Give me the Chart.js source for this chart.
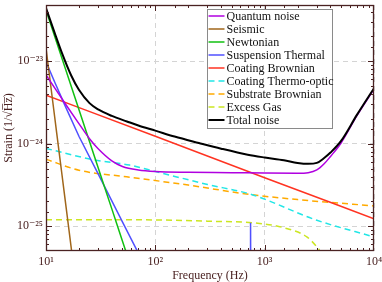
<!DOCTYPE html>
<html lang="en">
<head>
    <meta charset="UTF-8">
    <title>Noise Budget</title>
    <script src="https://cdn.jsdelivr.net/npm/chart.js"></script>
    <style>
        html, body { margin: 0; padding: 0; background: #fff; }
    </style>
</head>
<body>
<canvas id="noiseChart" width="382" height="282"></canvas>
<script>
    // Curves: frequency (Hz) and strain (1/sqrt(Hz))
    const quantumFreq = [10, 12, 15, 20, 25, 30, 40, 50, 70, 100, 200, 500, 1000, 2000, 2500, 3000, 3500, 4000, 5000, 7000, 10000];
    const quantumStrain = [6.8e-24, 4.75e-24, 3.05e-24, 1.75e-24, 1.15e-24, 8.7e-25, 6.2e-25, 5.3e-25, 4.8e-25, 4.6e-25, 4.5e-25, 4.45e-25, 4.4e-25, 4.38e-25, 4.45e-25, 4.8e-25, 5.7e-25, 7.0e-25, 1.02e-24, 2.2e-24, 4.6e-24];

    const seismicFreq = [10, 12, 14, 16, 18];
    const seismicStrain = [1.44e-23, 2.12e-24, 4.2e-25, 1.04e-25, 3e-26];

    const newtonianFreq = [10, 20, 30, 40, 50, 60];
    const newtonianStrain = [4.15e-23, 2.6e-24, 5.1e-25, 1.62e-25, 6.6e-26, 3.2e-26];

    const suspensionFreq = [10, 12, 15, 20, 30, 50, 70, 90, 735, 743, 751, 1000];
    const suspensionStrain = [9.8e-24, 5.6e-24, 2.85e-24, 1.23e-24, 4.3e-25, 1.13e-25, 4.7e-26, 1e-26, 1e-27, 1.1e-25, 1e-27, 1e-27];

    const coatingBrownianFreq = [10, 100, 1000, 10000];
    const coatingBrownianStrain = [3.87e-24, 1.23e-24, 3.87e-25, 1.23e-25];

    const thermoOpticFreq = [10, 27, 58, 100, 300, 735, 3000, 10000];
    const thermoOpticStrain = [8.75e-25, 6.4e-25, 5.5e-25, 4.6e-25, 3.2e-25, 2.45e-25, 1.18e-25, 7.4e-26];

    const substrateFreq = [10, 20, 58, 200, 735, 2000, 10000];
    const substrateStrain = [6.48e-25, 4.77e-25, 3.93e-25, 3.15e-25, 2.42e-25, 2.1e-25, 1.76e-25];

    const excessGasFreq = [10, 100, 300, 900, 1470, 2430, 2990, 3214, 3500];
    const excessGasStrain = [1.2e-25, 1.19e-25, 1.15e-25, 1.08e-25, 9.64e-26, 7.41e-26, 5.62e-26, 4.9e-26, 3e-26];

    const totalFreq = [10, 12, 14, 17, 20, 25, 30, 40, 55, 70, 100, 150, 250, 400, 700, 1000, 1500, 2000, 2500, 3000, 3500, 4000, 5000, 7000, 10000];
    const totalStrain = [4.4e-23, 2.2e-23, 1.25e-23, 6.7e-24, 4.5e-24, 3.1e-24, 2.6e-24, 2.17e-24, 1.86e-24, 1.66e-24, 1.44e-24, 1.22e-24, 1.02e-24, 8.7e-25, 7.35e-25, 6.8e-25, 6.3e-25, 5.85e-25, 5.7e-25, 5.85e-25, 6.7e-25, 7.8e-25, 1.08e-24, 2.25e-24, 4.7e-24];

    const seriesNames = ['Quantum noise', 'Seismic', 'Newtonian', 'Suspension Thermal', 'Coating Brownian',
        'Coating Thermo-optic', 'Substrate Brownian', 'Excess Gas', 'Total noise'];

    // Axis ticks that carry a label
    const xTickValues = [10, 100, 1000, 10000];
    const xTickLabels = ['10¹', '10²', '10³', '10⁴'];
    const yTickValues = [1e-25, 1e-24, 1e-23];
    const yTickLabels = ['10⁻²⁵', '10⁻²⁴', '10⁻²³'];

    const axisColor = '#4a2222';
    const serif = '"Liberation Serif", "DejaVu Serif", serif';

    function toPoints(freq, strain) {
        return freq.map((f, i) => ({ x: f, y: strain[i] }));
    }

    function isDecade(v) {
        const l = Math.log10(v);
        return Math.abs(l - Math.round(l)) < 1e-6;
    }

    function findLabel(v, values, labels) {
        for (let i = 0; i < values.length; i++) {
            if (Math.abs(Math.log10(v) - Math.log10(values[i])) < 1e-6) return labels[i];
        }
        return '';
    }

    function curve(idx, freq, strain, color, opts) {
        return Object.assign({
            label: seriesNames[idx],
            data: toPoints(freq, strain),
            borderColor: color,
            backgroundColor: color,
            borderWidth: 1.5,
            pointRadius: 0,
            fill: false,
            clip: 0,
            cubicInterpolationMode: 'monotone',
            order: 1
        }, opts || {});
    }

    const datasets = [
        curve(0, quantumFreq, quantumStrain, '#b000e0'),
        curve(1, seismicFreq, seismicStrain, '#a0661a'),
        curve(2, newtonianFreq, newtonianStrain, '#11c011'),
        curve(3, suspensionFreq, suspensionStrain, '#5050ff', { cubicInterpolationMode: 'default', tension: 0 }),
        curve(4, coatingBrownianFreq, coatingBrownianStrain, '#ff3322'),
        curve(5, thermoOpticFreq, thermoOpticStrain, '#22e6e6', { borderDash: [6, 4] }),
        curve(6, substrateFreq, substrateStrain, '#ffaa00', { borderDash: [6, 4] }),
        curve(7, excessGasFreq, excessGasStrain, '#cce622', { borderDash: [6, 4] }),
        curve(8, totalFreq, totalStrain, '#000000', { borderWidth: 2, order: 0 })
    ];

    // Box around the plot with inward ticks on all four sides
    const frameTicks = {
        id: 'frameTicks',
        afterDatasetsDraw(chart) {
            const { ctx, chartArea: a, scales: { x, y } } = chart;
            ctx.save();
            ctx.strokeStyle = axisColor;
            ctx.lineWidth = 1;
            ctx.beginPath();
            x.ticks.forEach(t => {
                const px = Math.round(x.getPixelForValue(t.value)) + 0.5;
                if (px <= a.left + 1 || px >= a.right - 1) return;
                const len = isDecade(t.value) ? 6 : 3;
                ctx.moveTo(px, a.bottom); ctx.lineTo(px, a.bottom - len);
                ctx.moveTo(px, a.top); ctx.lineTo(px, a.top + len);
            });
            y.ticks.forEach(t => {
                const py = Math.round(y.getPixelForValue(t.value)) + 0.5;
                if (py <= a.top + 1 || py >= a.bottom - 1) return;
                const len = isDecade(t.value) ? 6 : 3;
                ctx.moveTo(a.left, py); ctx.lineTo(a.left + len, py);
                ctx.moveTo(a.right, py); ctx.lineTo(a.right - len, py);
            });
            ctx.stroke();
            ctx.lineWidth = 1.3;
            ctx.strokeRect(a.left + 0.5, a.top + 0.5, a.right - a.left - 1, a.bottom - a.top - 1);
            ctx.restore();
        }
    };

    // Legend drawn inside the plot, upper right
    const boxLegend = {
        id: 'boxLegend',
        afterDraw(chart) {
            const { ctx, chartArea: a } = chart;
            const left = a.right - 166.5, top = a.top + 4.5, w = 125, h = 119, rowH = 13;
            ctx.save();
            ctx.fillStyle = '#fff';
            ctx.fillRect(left, top, w, h);
            ctx.strokeStyle = '#8a8a8a';
            ctx.lineWidth = 1;
            ctx.strokeRect(left, top, w, h);
            ctx.font = '12px ' + serif;
            ctx.textBaseline = 'middle';
            chart.data.datasets.forEach((ds, i) => {
                const cy = top + 6.5 + i * rowH;
                ctx.strokeStyle = ds.borderColor;
                ctx.lineWidth = ds.borderWidth;
                ctx.setLineDash(ds.borderDash || []);
                ctx.beginPath();
                ctx.moveTo(left + 1, cy);
                ctx.lineTo(left + 17, cy);
                ctx.stroke();
                ctx.setLineDash([]);
                ctx.fillStyle = '#111';
                ctx.fillText(ds.label, left + 19, cy + 0.5);
            });
            ctx.restore();
        }
    };

    const gridColor = ctx => {
        const v = ctx.tick && ctx.tick.value;
        return v && isDecade(v) ? '#d4d4d4' : 'rgba(0,0,0,0)';
    };

    new Chart(document.getElementById('noiseChart'), {
        type: 'line',
        data: { datasets },
        options: {
            responsive: false,
            animation: false,
            devicePixelRatio: 1,
            layout: { padding: { top: 5, right: 8, left: 0, bottom: 0 } },
            plugins: { legend: { display: false }, tooltip: { enabled: false } },
            scales: {
                x: {
                    type: 'logarithmic',
                    min: 10,
                    max: 10000,
                    border: { display: false, dash: [5, 4] },
                    grid: { color: gridColor, drawTicks: false, lineWidth: 1 },
                    ticks: {
                        autoSkip: false,
                        maxRotation: 0,
                        padding: 4,
                        color: axisColor,
                        font: { family: serif, size: 12 },
                        callback: v => findLabel(v, xTickValues, xTickLabels)
                    },
                    title: {
                        display: true,
                        text: 'Frequency (Hz)',
                        color: axisColor,
                        font: { family: serif, size: 12, lineHeight: 1 },
                        padding: { top: 0, bottom: 0 }
                    },
                    afterFit(scale) {
                        scale.height = 31;
                        scale.paddingLeft = 0;
                        scale.paddingRight = 0;
                    }
                },
                y: {
                    type: 'logarithmic',
                    min: 5e-26,
                    max: 4.8e-23,
                    border: { display: false, dash: [5, 4] },
                    grid: { color: gridColor, drawTicks: false, lineWidth: 1 },
                    ticks: {
                        autoSkip: false,
                        padding: 3,
                        color: axisColor,
                        font: { family: serif, size: 12 },
                        callback: v => findLabel(v, yTickValues, yTickLabels)
                    },
                    title: {
                        display: true,
                        text: 'Strain (1/√H̅z̅)',
                        color: axisColor,
                        font: { family: serif, size: 12, lineHeight: 1 },
                        padding: { top: 3, bottom: 0 }
                    },
                    afterFit(scale) {
                        scale.width = 46;
                        scale.paddingTop = 0;
                        scale.paddingBottom = 0;
                    }
                }
            }
        },
        plugins: [frameTicks, boxLegend]
    });
</script>
</body>
</html>
